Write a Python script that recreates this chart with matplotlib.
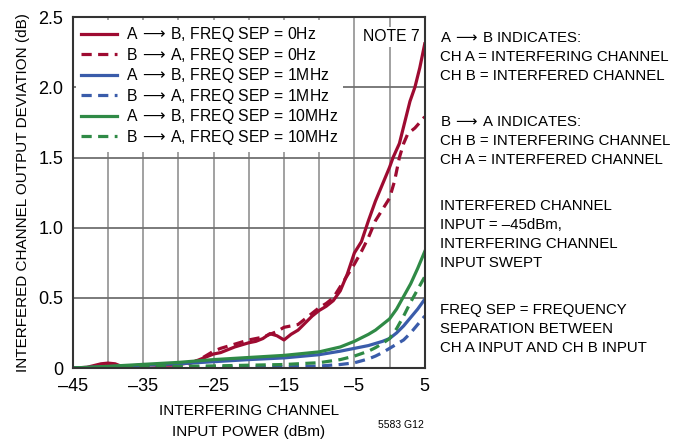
import matplotlib
matplotlib.use("Agg")
import matplotlib.pyplot as plt

plt.rcParams['font.family'] = ['Liberation Sans', 'DejaVu Sans']
plt.rcParams['mathtext.fontset'] = 'dejavusans'

# ---------- data ----------
x_ab_0 = [-45, -43, -41, -40, -39, -38, -37, -35, -33, -31, -30, -28, -27, -25, -24, -22, -20, -19, -18,
          -17, -16, -15, -14, -13, -12, -11, -10, -9, -8, -7, -6, -5, -4, -3, -2, -1, 0, 0.5, 1.4, 2.2,
          2.9, 3.6, 4.3, 5]
y_ab_0 = [0, 0.005, 0.03, 0.035, 0.03, 0.01, 0.01, 0.025, 0.02, 0.02, 0.025, 0.04, 0.06, 0.1, 0.11, 0.15,
          0.18, 0.19, 0.21, 0.245, 0.23, 0.2, 0.24, 0.27, 0.32, 0.37, 0.41, 0.44, 0.48, 0.55, 0.67, 0.82,
          0.9, 1.05, 1.19, 1.31, 1.43, 1.5, 1.6, 1.76, 1.9, 2.0, 2.14, 2.31]

x_ba_0 = [-45, -42, -40, -38, -36, -34, -32, -30, -29, -28, -27, -26, -25, -24, -22, -20, -18, -17, -16,
          -15, -14, -13, -12, -10, -9, -8, -7, -6, -5, -4, -3, -2, -1, 0, 0.7, 1.4, 2.0, 2.6, 3.6, 5]
y_ba_0 = [0, 0.005, 0.02, 0.015, 0.01, 0.015, 0.005, 0.0, 0.02, 0.04, 0.06, 0.09, 0.12, 0.14, 0.17, 0.2,
          0.22, 0.24, 0.26, 0.29, 0.3, 0.31, 0.35, 0.43, 0.46, 0.5, 0.58, 0.66, 0.74, 0.83, 0.93, 1.05,
          1.13, 1.21, 1.33, 1.5, 1.6, 1.67, 1.71, 1.79]

x_sweep = [-45, -40, -35, -30, -25, -20, -15, -10, -7, -5, -3, -2, -1, 0, 1, 2, 3, 4, 5]
y_ab_1 = [0, 0.01, 0.02, 0.03, 0.045, 0.06, 0.072, 0.095, 0.12, 0.14, 0.16, 0.175, 0.19, 0.21, 0.25,
          0.3, 0.36, 0.42, 0.49]
y_ba_1 = [0, 0.003, 0.005, 0.006, 0.007, 0.008, 0.008, 0.014, 0.025, 0.037, 0.065, 0.085, 0.11, 0.14,
          0.17, 0.2, 0.25, 0.31, 0.37]
y_ab_10 = [0, 0.012, 0.026, 0.04, 0.06, 0.075, 0.09, 0.115, 0.15, 0.19, 0.24, 0.27, 0.31, 0.35, 0.42,
           0.51, 0.6, 0.71, 0.83]
y_ba_10 = [0, 0.005, 0.01, 0.012, 0.015, 0.02, 0.025, 0.038, 0.06, 0.085, 0.12, 0.145, 0.175, 0.21, 0.28,
           0.37, 0.47, 0.56, 0.65]

x_ticks = [-45, -35, -25, -15, -5, 5]
y_ticks = [0, 0.5, 1.0, 1.5, 2.0, 2.5]
y_tick_labels = ["0", "0.5", "1.0", "1.5", "2.0", "2.5"]

RED = "#9E0B31"
BLUE = "#3A5CAA"
GREEN = "#2F8A46"
DASH = (3.2, 2.0)
AR = r"$\,\longrightarrow\,$"
FS = 11.3

fig = plt.figure(figsize=(6.94, 4.41), dpi=100)
ax = fig.add_axes([0.105, 0.1655, 0.507, 0.7955])

ax.plot(x_ab_0, y_ab_0, color=RED, lw=2.3, label="A" + AR + "B, FREQ SEP = 0Hz")
ax.plot(x_ba_0, y_ba_0, color=RED, lw=2.3, dashes=DASH, label="B" + AR + "A, FREQ SEP = 0Hz")
ax.plot(x_sweep, y_ab_1, color=BLUE, lw=2.3, label="A" + AR + "B, FREQ SEP = 1MHz")
ax.plot(x_sweep, y_ba_1, color=BLUE, lw=2.3, dashes=DASH, label="B" + AR + "A, FREQ SEP = 1MHz")
ax.plot(x_sweep, y_ab_10, color=GREEN, lw=2.3, label="A" + AR + "B, FREQ SEP = 10MHz")
ax.plot(x_sweep, y_ba_10, color=GREEN, lw=2.3, dashes=DASH, label="B" + AR + "A, FREQ SEP = 10MHz")

ax.set_xlim(-45, 5)
ax.set_ylim(0, 2.5)
ax.set_xticks(x_ticks)
ax.set_xticks(range(-45, 6, 5), minor=True)
ax.set_yticks(y_ticks)
ax.set_yticklabels(y_tick_labels)
ax.set_xticklabels([str(t).replace("-", "\u2013") for t in x_ticks])
ax.tick_params(which="both", length=0, labelsize=13, pad=7)
ax.grid(axis="x", which="both", color="#9a9a9a", lw=1.3)
ax.grid(axis="y", which="major", color="#707070", lw=1.3)
ax.set_axisbelow(True)
for s in ax.spines.values():
    s.set_color("#333333")
    s.set_linewidth(1.5)

leg = ax.legend(loc="upper left", fontsize=FS, frameon=True, fancybox=False,
                handlelength=2.3, labelspacing=0.1, borderaxespad=0.2,
                handletextpad=0.6, borderpad=0.3)
leg.get_frame().set_edgecolor("none")
leg.get_frame().set_facecolor("white")
leg.get_frame().set_alpha(1)

ax.text(0.985, 0.965, "NOTE 7", transform=ax.transAxes, ha="right", va="top", fontsize=FS,
        bbox=dict(facecolor="white", edgecolor="none", pad=2))

ax.set_ylabel("INTERFERED CHANNEL OUTPUT DEVIATION (dB)", fontsize=11, labelpad=6)
ax.set_xlabel("INTERFERING CHANNEL\nINPUT POWER (dBm)", fontsize=11, labelpad=7, linespacing=1.6)
fig.text(0.578, 0.03, "5583 G12", fontsize=7.5, ha="center")

# ---------- notes on the right ----------
notes = [
    ("A" + AR + "B INDICATES:", 38), ("CH A = INTERFERING CHANNEL", 57), ("CH B = INTERFERED CHANNEL", 76),
    ("B" + AR + "A INDICATES:", 122), ("CH B = INTERFERING CHANNEL", 141), ("CH A = INTERFERED CHANNEL", 160),
    ("INTERFERED CHANNEL", 206), ("INPUT = \u201345dBm,", 225), ("INTERFERING CHANNEL", 244),
    ("INPUT SWEPT", 263),
    ("FREQ SEP = FREQUENCY", 310), ("SEPARATION BETWEEN", 329), ("CH A INPUT AND CH B INPUT", 348),
]
for txt, ypx in notes:
    fig.text(440 / 694, 1 - ypx / 441, txt, fontsize=10.8, ha="left", va="center")

fig.savefig("out.png", dpi=100)
